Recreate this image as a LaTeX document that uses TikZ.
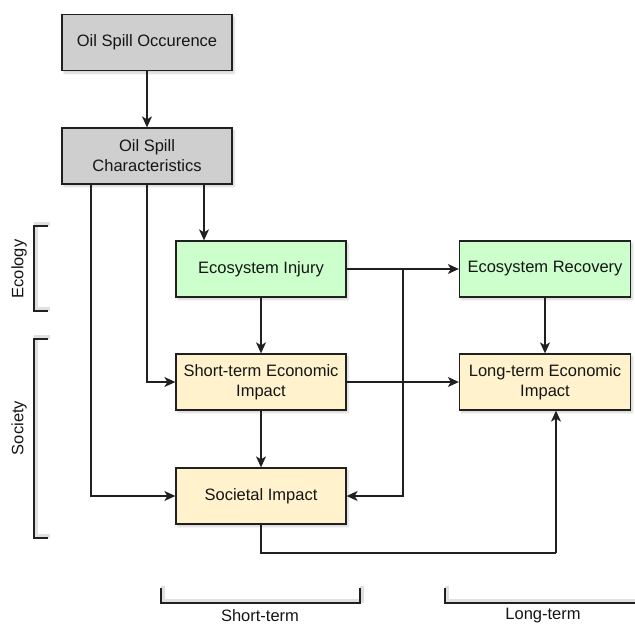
\documentclass[tikz,border=0pt]{standalone}
\usepackage{fontspec}
\setmainfont{Liberation Sans}
\usetikzlibrary{arrows.meta,shadows.blur}
\definecolor{boxgray}{HTML}{CFCFCF}
\definecolor{boxgreen}{HTML}{CCFFCC}
\definecolor{boxyellow}{HTML}{FFF2CC}
\definecolor{edge}{HTML}{202020}
\definecolor{ink}{HTML}{151515}
\begin{document}
\begin{tikzpicture}[x=1pt,y=-1pt,
  font=\fontsize{16.5}{20}\selectfont, text=ink,
  softshadow/.style={blur shadow={shadow blur steps=6, shadow xshift=2pt, shadow yshift=-2.5pt, shadow opacity=18}},
  box/.style={draw=edge, line width=1.3pt, minimum width=170pt, minimum height=56pt,
    align=center, inner sep=2pt, softshadow},
  graybox/.style={box, fill=boxgray},
  greenbox/.style={box, fill=boxgreen},
  yellowbox/.style={box, fill=boxyellow},
  arr/.style={draw=edge, line width=1.3pt, -{Stealth[length=11pt,width=10pt,inset=3pt]}},
  link/.style={draw=edge, line width=1.3pt},
  bracket/.style={draw=edge, line width=2.2pt},
  bracketshade/.style={draw=black, opacity=0.12, line width=3.5pt, shift={(2pt,2pt)}},
  tag/.style={inner sep=0pt}]
\useasboundingbox (0,0) rectangle (635,626);

% boxes
\node[graybox]   (occ) at (147,42.5)  {Oil Spill Occurence};
\node[graybox]   (chr) at (147,156)   {Oil Spill\\Characteristics};
\node[greenbox]  (ei)  at (261,269)   {Ecosystem Injury};
\node[yellowbox] (st)  at (261,382)   {Short-term Economic\\Impact};
\node[yellowbox] (soc) at (261,496)   {Societal Impact};
\node[greenbox, minimum width=171pt]  (er) at (545,269) {Ecosystem Recovery};
\node[yellowbox, minimum width=171pt] (lt) at (545,382) {Long-term Economic\\Impact};

% helper points
\coordinate (j) at (403,269);
\coordinate (b) at (556,553);

% connectors
\draw[arr] (occ.south) -- (chr.south |- chr.north);
\draw[arr] ([xshift=57pt]chr.south) -- ([xshift=57pt]chr.south |- ei.north);
\draw[arr] (chr.south) |- (st.west);
\draw[arr] ([xshift=-56pt]chr.south) |- (soc.west);
\draw[arr] (ei.east) -- (er.west);
\draw[arr] (j) |- (soc.east);
\draw[arr] (ei.south) -- (st.north);
\draw[arr] (st.south) -- (soc.north);
\draw[arr] (st.east) -- (lt.west);
\draw[arr] (er.south) -- (lt.north);
\draw[link] (soc.south) |- (b);
\draw[arr] (b) -- (b |- lt.south);

% side brackets
\draw[bracketshade] (48,226) -- (34,226) -- (34,311) -- (48,311);
\draw[bracketshade] (48,339) -- (34,339) -- (34,538) -- (48,538);
\draw[bracket] (48,226) -- (34,226) -- (34,311) -- (48,311);
\draw[bracket] (48,339) -- (34,339) -- (34,538) -- (48,538);
\node[tag, rotate=90] (ecol) at (19,269) {Ecology};
\node[tag, rotate=90] (soci) at (19,428) {Society};

% bottom brackets
\draw[bracketshade] (161,588) -- (161,603) -- (360,603) -- (360,588);
\draw[bracketshade] (445,588) -- (445,603) -- (636,603);
\draw[bracket] (161,588) -- (161,603) -- (360,603) -- (360,588);
\draw[bracket] (445,588) -- (445,603) -- (636,603);
\node[tag] (sterm) at (260,616) {Short-term};
\node[tag] (lterm) at (543,616) {Long-term};
\end{tikzpicture}
\end{document}
